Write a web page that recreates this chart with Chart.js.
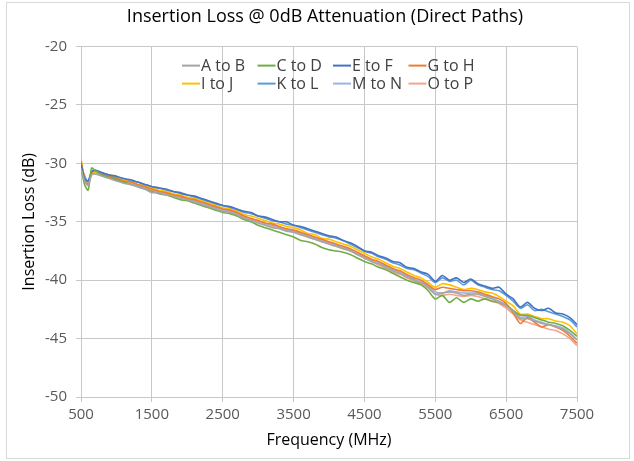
<!DOCTYPE html>
<html>
<head>
<meta charset="utf-8">
<script src="https://cdn.jsdelivr.net/npm/chart.js@4.4.1/dist/chart.umd.min.js"></script>
<style>
  body { margin: 0; background: #fff; }
</style>
</head>
<body>
<canvas id="loss" width="634" height="461"></canvas>
<script>
// frequencies in MHz
let freqs = [500, 550, 600, 650, 700, 800, 900, 1000, 1100, 1200,
  1300, 1400, 1500, 1600, 1700, 1800, 1900, 2000, 2100, 2200,
  2300, 2400, 2500, 2600, 2700, 2800, 2900, 3000, 3100, 3200,
  3300, 3400, 3500, 3600, 3700, 3800, 3900, 4000, 4100, 4200,
  4300, 4400, 4500, 4600, 4700, 4800, 4900, 5000, 5100, 5200,
  5300, 5400, 5500, 5600, 5700, 5800, 5900, 6000, 6100, 6200,
  6300, 6400, 6500, 6600, 6700, 6800, 6900, 7000, 7100, 7200,
  7300, 7400, 7500]

let pathNames = ["A to B", "C to D", "E to F", "G to H", "I to J", "K to L", "M to N", "O to P"]

let aToB = [-30.5, -31.5, -31.9, -31.0, -30.9, -31.1, -31.3, -31.5, -31.7, -31.8,
  -32.0, -32.2, -32.5, -32.5, -32.7, -32.8, -33.0, -33.1, -33.3, -33.5,
  -33.7, -33.9, -34.1, -34.2, -34.4, -34.7, -34.9, -35.1, -35.3, -35.5,
  -35.6, -35.8, -35.9, -36.1, -36.3, -36.5, -36.7, -36.9, -37.1, -37.3,
  -37.5, -37.8, -38.1, -38.4, -38.6, -38.9, -39.2, -39.4, -39.7, -40.0,
  -40.2, -40.6, -41.2, -41.1, -41.0, -41.1, -41.3, -41.2, -41.2, -41.4,
  -41.6, -41.9, -42.2, -42.7, -43.3, -43.3, -43.5, -43.7, -43.8, -44.0,
  -44.2, -44.6, -45.1]
let cToD = [-30.4, -31.8, -32.3, -30.4, -30.6, -31.0, -31.2, -31.4, -31.6, -31.8,
  -32.0, -32.2, -32.4, -32.6, -32.7, -32.9, -33.1, -33.2, -33.4, -33.6,
  -33.8, -34.0, -34.2, -34.3, -34.5, -34.8, -35.0, -35.3, -35.5, -35.7,
  -35.9, -36.1, -36.3, -36.6, -36.7, -36.9, -37.2, -37.4, -37.5, -37.6,
  -37.8, -38.1, -38.4, -38.6, -38.9, -39.1, -39.4, -39.7, -40.0, -40.2,
  -40.4, -40.9, -41.6, -41.3, -41.9, -41.5, -41.9, -41.6, -41.8, -41.6,
  -41.8, -41.9, -42.2, -42.6, -43.0, -43.0, -43.2, -43.4, -43.6, -43.7,
  -43.9, -44.3, -44.8]
let eToF = [-30.0, -31.3, -31.5, -30.7, -30.6, -30.8, -31.0, -31.1, -31.3, -31.4,
  -31.6, -31.8, -32.0, -32.1, -32.2, -32.4, -32.5, -32.7, -32.8, -33.0,
  -33.2, -33.4, -33.6, -33.7, -33.9, -34.1, -34.2, -34.5, -34.6, -34.8,
  -35.0, -35.0, -35.3, -35.4, -35.6, -35.8, -36.0, -36.2, -36.3, -36.6,
  -36.8, -37.1, -37.5, -37.6, -37.9, -38.1, -38.4, -38.5, -38.9, -39.0,
  -39.3, -39.5, -40.1, -39.6, -40.0, -39.8, -40.2, -39.9, -40.3, -40.5,
  -40.7, -40.6, -41.2, -41.6, -42.3, -41.9, -42.4, -42.6, -42.4, -42.8,
  -42.9, -43.2, -43.8]
let gToH = [-29.8, -31.3, -31.8, -30.8, -30.6, -30.9, -31.1, -31.3, -31.5, -31.6,
  -31.8, -32.0, -32.2, -32.4, -32.5, -32.7, -32.8, -33.0, -33.1, -33.3,
  -33.5, -33.7, -33.9, -34.0, -34.2, -34.5, -34.7, -34.9, -35.1, -35.2,
  -35.4, -35.6, -35.7, -35.9, -36.1, -36.3, -36.5, -36.7, -36.9, -37.1,
  -37.3, -37.6, -37.9, -38.2, -38.4, -38.7, -39.0, -39.2, -39.5, -39.8,
  -40.0, -40.4, -40.8, -40.6, -40.7, -40.8, -40.9, -40.9, -41.0, -41.2,
  -41.4, -41.6, -42.0, -42.8, -43.7, -43.2, -43.6, -44.0, -43.8, -44.0,
  -44.3, -44.8, -45.4]
let iToJ = [-29.6, -31.2, -31.6, -30.9, -30.7, -30.9, -31.0, -31.1, -31.4, -31.6,
  -31.8, -31.9, -32.1, -32.3, -32.4, -32.6, -32.7, -32.9, -33.0, -33.2,
  -33.4, -33.6, -33.8, -33.9, -34.1, -34.4, -34.5, -34.7, -34.9, -35.1,
  -35.2, -35.4, -35.5, -35.7, -36.0, -36.1, -36.4, -36.5, -36.7, -36.9,
  -37.1, -37.4, -37.7, -38.0, -38.2, -38.5, -38.8, -39.0, -39.3, -39.6,
  -39.8, -40.2, -40.6, -40.3, -40.4, -40.6, -40.8, -40.7, -40.8, -41.0,
  -41.1, -41.4, -41.8, -42.2, -42.9, -42.9, -43.1, -43.3, -43.3, -43.5,
  -43.6, -43.9, -44.6]
let kToL = [-30.1, -31.1, -31.6, -30.8, -30.6, -30.8, -31.0, -31.2, -31.3, -31.5,
  -31.6, -31.8, -32.0, -32.1, -32.3, -32.4, -32.6, -32.7, -32.9, -33.1,
  -33.3, -33.5, -33.6, -33.8, -34.0, -34.2, -34.3, -34.5, -34.7, -34.9,
  -35.0, -35.2, -35.3, -35.5, -35.7, -35.9, -36.1, -36.3, -36.4, -36.6,
  -36.9, -37.2, -37.5, -37.7, -38.0, -38.2, -38.5, -38.7, -39.0, -39.1,
  -39.4, -39.7, -40.2, -39.8, -40.1, -40.0, -40.4, -40.0, -40.4, -40.6,
  -40.8, -40.9, -41.3, -41.8, -42.4, -42.1, -42.6, -42.5, -42.7, -42.9,
  -43.1, -43.4, -44.0]
let mToN = [-30.3, -31.0, -31.7, -30.8, -30.7, -30.9, -31.1, -31.3, -31.5, -31.7,
  -31.9, -32.0, -32.2, -32.4, -32.5, -32.7, -32.8, -33.0, -33.2, -33.4,
  -33.6, -33.8, -34.0, -34.1, -34.3, -34.5, -34.8, -34.9, -35.2, -35.3,
  -35.5, -35.7, -35.8, -36.0, -36.2, -36.4, -36.6, -36.8, -37.0, -37.2,
  -37.4, -37.7, -38.0, -38.3, -38.5, -38.8, -39.1, -39.3, -39.6, -39.9,
  -40.2, -40.5, -41.0, -41.1, -40.9, -41.0, -41.1, -41.1, -41.1, -41.3,
  -41.5, -41.8, -42.1, -42.6, -43.2, -43.1, -43.4, -43.6, -43.8, -43.9,
  -44.1, -44.5, -45.1]
let oToP = [-30.0, -31.4, -31.8, -30.9, -30.8, -31.0, -31.2, -31.4, -31.6, -31.7,
  -31.9, -32.1, -32.3, -32.4, -32.6, -32.7, -32.9, -33.0, -33.2, -33.4,
  -33.6, -33.8, -34.0, -34.1, -34.3, -34.6, -34.8, -35.0, -35.2, -35.4,
  -35.5, -35.7, -35.9, -36.1, -36.3, -36.5, -36.7, -36.9, -37.1, -37.3,
  -37.5, -37.8, -38.1, -38.4, -38.7, -39.0, -39.3, -39.5, -39.8, -40.1,
  -40.3, -40.7, -41.2, -41.3, -41.2, -41.3, -41.4, -41.3, -41.4, -41.6,
  -41.8, -42.0, -42.4, -42.9, -43.4, -43.6, -43.8, -44.0, -44.2, -44.3,
  -44.6, -45.0, -45.6]

let pathValues = [aToB, cToD, eToF, gToH, iToJ, kToL, mToN, oToP]
let pathColors = ["#A5A5A5", "#70AD47", "#4472C4", "#ED7D31", "#FFC000", "#5B9BD5", "#9DB1E0", "#F5A48A"]

let fontName = "'Open Sans', sans-serif"

// white background + thin outer border like the spreadsheet chart
let frame = {
    id: "frame",
    beforeDraw(chart) {
        let ctx = chart.ctx
        ctx.save()
        ctx.fillStyle = "#fff"
        ctx.fillRect(0, 0, chart.width, chart.height)
        ctx.strokeStyle = "#D9D9D9"
        ctx.lineWidth = 1
        ctx.strokeRect(6.5, 2.5, chart.width - 11, chart.height - 5)
        ctx.restore()
    }
}

// legend sits inside the plot, 4 columns x 2 rows
let insideLegend = {
    id: "insideLegend",
    afterDraw(chart) {
        let ctx = chart.ctx
        let area = chart.chartArea
        let x0 = (area.left + area.right) / 2 - 147
        ctx.save()
        ctx.font = "16px " + fontName
        ctx.textBaseline = "middle"
        ctx.textAlign = "left"
        chart.data.datasets.forEach(function(ds, i){
            let col = i % 4
            let row = Math.floor(i / 4)
            let x = x0 + col * 75.5
            let y = area.top + 19 + row * 18
            ctx.strokeStyle = ds.borderColor
            ctx.lineWidth = 2
            ctx.beginPath()
            ctx.moveTo(x, y)
            ctx.lineTo(x + 18, y)
            ctx.stroke()
            ctx.fillStyle = "#404040"
            ctx.fillText(ds.label, x + 19, y + 1)
        })
        ctx.restore()
    }
}

let datasets = pathNames.map(function(name, i){
    return {
        label: name,
        data: freqs.map(function(f, j){
            return {x: f, y: pathValues[i][j]}
        }),
        borderColor: pathColors[i],
        backgroundColor: pathColors[i],
        borderWidth: 1.6,
        pointRadius: 0,
        tension: 0.25,
        fill: false
    }
})

let chart = new Chart(
    document.querySelector("#loss"),
    {
        type: "line",
        data: { datasets: datasets },
        plugins: [frame, insideLegend],
        options: {
            responsive: false,
            animation: false,
            devicePixelRatio: 1,
            layout: { padding: { left: 16, right: 0, top: 0, bottom: 0 } },
            plugins: {
                legend: { display: false },
                tooltip: { enabled: false },
                title: {
                    display: true,
                    text: "Insertion Loss @ 0dB Attenuation (Direct Paths)",
                    color: "#000",
                    font: { family: fontName, size: 18, weight: "normal", lineHeight: 1.2 },
                    padding: { top: 6, bottom: 19 }
                }
            },
            scales: {
                x: {
                    type: "linear",
                    min: 500,
                    max: 7500,
                    ticks: {
                        stepSize: 1000, color: "#595959", font: { family: fontName, size: 15 }, padding: 4, maxRotation: 0,
                        callback: function(v){ return String(v) }
                    },
                    grid: { color: "#C8C8C8", tickLength: 5 },
                    border: { color: "#C8C8C8" },
                    title: {
                        display: true,
                        text: "Frequency (MHz)",
                        color: "#000",
                        font: { family: fontName, size: 16, lineHeight: 1.2 },
                        padding: { top: 0, bottom: 11 }
                    },
                    afterFit(scale) { scale.height = 64 }
                },
                y: {
                    min: -50,
                    max: -20,
                    ticks: {
                        stepSize: 5, color: "#595959", font: { family: fontName, size: 15 }, padding: 9,
                        callback: function(v){ return String(v) }
                    },
                    grid: { color: "#C8C8C8", tickLength: 5 },
                    border: { color: "#C8C8C8" },
                    title: {
                        display: true,
                        text: "Insertion Loss (dB)",
                        color: "#000",
                        font: { family: fontName, size: 16, lineHeight: 1.2 },
                        padding: { top: 4, bottom: 0 }
                    },
                    afterFit(scale) { scale.width = 65 }
                },
                // empty right-hand spacer so the plot ends where the reference does
                spacer: {
                    position: "right",
                    display: true,
                    grid: { display: false },
                    border: { display: false },
                    ticks: { display: false },
                    afterFit(scale) { scale.width = 57 }
                }
            }
        }
    }
)
</script>
</body>
</html>
